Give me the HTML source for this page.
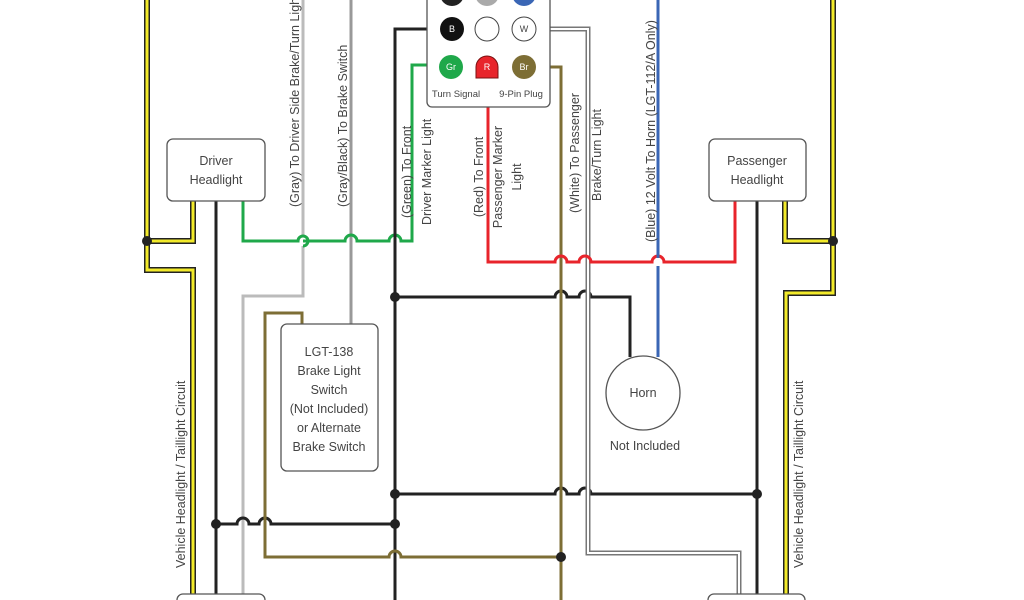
<!DOCTYPE html>
<html><head><meta charset="utf-8"><style>
html,body{margin:0;padding:0;background:#fff;width:1024px;height:600px;overflow:hidden}
svg{display:block}
text{font-family:"Liberation Sans",sans-serif;fill:#444;font-size:12.5px}
</style></head><body>
<svg width="1024" height="600" viewBox="0 0 1024 600" xmlns="http://www.w3.org/2000/svg">
<g fill="none" stroke-linejoin="miter">
<g stroke="#222" stroke-width="6">
<path d="M147,0 V241 M147,241 H193 V201 M147,241 V270 H193 V600"/>
<path d="M833,0 V241 M833,241 H785 V201 M833,241 V293 H786 V600"/>
</g>
<g stroke="#f2ea2a" stroke-width="3">
<path d="M147,0 V241 M147,241 H193 V201 M147,241 V270 H193 V600"/>
<path d="M833,0 V241 M833,241 H785 V201 M833,241 V293 H786 V600"/>
</g>
<path stroke="#bbb" stroke-width="3" d="M303,0 V236 M303,246 V296 H243 V600"/>
<path stroke="#bbb" stroke-width="3" d="M243,296 V519 M243,529 V600"/>
<path stroke="#999" stroke-width="3" d="M351,0 V325"/>
<path stroke="#1fa84a" stroke-width="3" d="M243,201 V241 H298 a5,5 0 0 1 5,-5 a5,5 0 0 1 0,10 M303,241 H345 a6,6 0 0 1 12,0 H389 a6,6 0 0 1 12,0 H412 V65 H440"/>
<g stroke="#222" stroke-width="3">
<path d="M216,201 V600"/>
<path d="M757,201 V600"/>
<path d="M440,29 H395 V600"/>
<path d="M216,524 H237 a6,6 0 0 1 12,0 H259 a6,6 0 0 1 12,0 H395"/>
<path d="M395,297 H555 a6,6 0 0 1 12,0 H579 a6,6 0 0 1 12,0 H630 V357"/>
<path d="M395,494 H555 a6,6 0 0 1 12,0 H579 a6,6 0 0 1 12,0 H757"/>
</g>
<g stroke="#7d6e35" stroke-width="3">
<path d="M302,324 V313 H265 V557 H389 a6,6 0 0 1 12,0 H561"/>
<path d="M536,67 H561 V600"/>
</g>
<path stroke="#777" stroke-width="5" d="M536,29 H588 V553 H739 V600"/>
<path stroke="#fff" stroke-width="2" d="M536,29 H588 V553 H739 V600"/>
<path stroke="#e8242b" stroke-width="3" d="M488,75 V262 H555 a6,6 0 0 1 12,0 H579 a6,6 0 0 1 12,0 H652 a6,6 0 0 1 12,0 H735 V201"/>
<path stroke="#3a66b5" stroke-width="3" d="M658,0 V258 M658,266 V357"/>
</g>
<g fill="#222">
<circle cx="147" cy="241" r="5"/><circle cx="833" cy="241" r="5"/>
<circle cx="395" cy="297" r="5"/><circle cx="395" cy="494" r="5"/><circle cx="395" cy="524" r="5"/>
<circle cx="216" cy="524" r="5"/><circle cx="561" cy="557" r="5"/><circle cx="757" cy="494" r="5"/>
</g>
<g fill="#fff" stroke="#555" stroke-width="1.3">
<rect x="167" y="139" width="98" height="62" rx="6"/>
<rect x="709" y="139" width="97" height="62" rx="6"/>
<rect x="281" y="324" width="97" height="147" rx="6"/>
<rect x="427" y="-10" width="123" height="117" rx="5"/>
<circle cx="643" cy="393" r="37"/>
<rect x="177" y="594" width="88" height="20" rx="6"/>
<rect x="708" y="594" width="97" height="20" rx="6"/>
</g>
<circle cx="452" cy="-6" r="12" fill="#222"/>
<circle cx="487" cy="-6" r="12" fill="#aaa"/>
<circle cx="524" cy="-6" r="12" fill="#3a66b5"/>
<circle cx="452" cy="29" r="12" fill="#111"/>
<circle cx="487" cy="29" r="12" fill="#fff" stroke="#444" stroke-width="1"/>
<circle cx="524" cy="29" r="12" fill="#fff" stroke="#444" stroke-width="1"/>
<circle cx="451" cy="67" r="12" fill="#1fa84a"/>
<path d="M476,78 V67 a11,11 0 0 1 22,0 V78 Z" fill="#e8242b" stroke="#7a1010" stroke-width="1"/>
<circle cx="524" cy="67" r="12" fill="#7d6e35"/>
<g text-anchor="middle">
<text x="452" y="32" style="fill:#fff;font-size:9px">B</text>
<text x="524" y="32" style="fill:#444;font-size:9px">W</text>
<text x="451" y="70" style="fill:#fff;font-size:9px">Gr</text>
<text x="487" y="70" style="fill:#fff;font-size:9px">R</text>
<text x="524" y="70" style="fill:#fff;font-size:9px">Br</text>
</g>
<text x="456" y="97" text-anchor="middle" style="font-size:9.5px">Turn Signal</text>
<text x="521" y="97" text-anchor="middle" style="font-size:9.5px">9-Pin Plug</text>
<g text-anchor="middle">
<text x="216" y="165">Driver</text><text x="216" y="184">Headlight</text>
<text x="757" y="165">Passenger</text><text x="757" y="184">Headlight</text>
<text x="329" y="356">LGT-138</text>
<text x="329" y="375">Brake Light</text>
<text x="329" y="394">Switch</text>
<text x="329" y="413">(Not Included)</text>
<text x="329" y="432">or Alternate</text>
<text x="329" y="451">Brake Switch</text>
<text x="643" y="397">Horn</text>
<text x="645" y="450">Not Included</text>
</g>
<g text-anchor="start">
<text transform="translate(299,207) rotate(-90)">(Gray) To Driver Side Brake/Turn Light</text>
<text transform="translate(347,207) rotate(-90)">(Gray/Black) To Brake Switch</text>
<text transform="translate(411,218) rotate(-90)">(Green) To Front</text>
<text transform="translate(431,225) rotate(-90)">Driver Marker Light</text>
<text transform="translate(579,213) rotate(-90)">(White) To Passenger</text>
<text transform="translate(601,201) rotate(-90)">Brake/Turn Light</text>
<text transform="translate(655,242) rotate(-90)">(Blue) 12 Volt To Horn (LGT-112/A Only)</text>
<text transform="translate(185,568) rotate(-90)">Vehicle Headlight / Taillight Circuit</text>
<text transform="translate(803,568) rotate(-90)">Vehicle Headlight / Taillight Circuit</text>
</g>
<g text-anchor="middle">
<text transform="translate(483,177) rotate(-90)">(Red) To Front</text>
<text transform="translate(502,177) rotate(-90)">Passenger Marker</text>
<text transform="translate(521,177) rotate(-90)">Light</text>
</g>
</svg>
</body></html>
